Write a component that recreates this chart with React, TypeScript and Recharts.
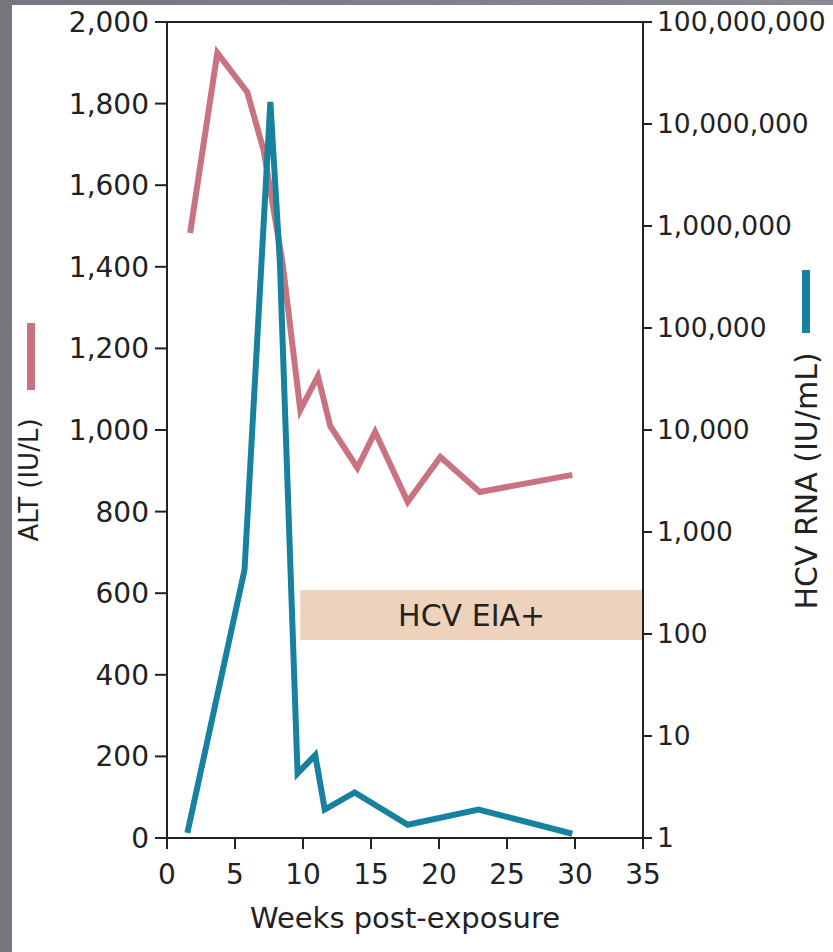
import React from "react";
import {
  ComposedChart,
  Line,
  XAxis,
  YAxis,
  ReferenceArea,
  ReferenceLine,
} from "recharts";

// ALT (IU/L), left axis
const altWeeks = [1.7, 3.7, 5.9, 7.1, 8.5, 9.8, 11.1, 12.0, 14.0, 15.3, 17.7, 20.1, 23.0, 29.8];
const altValues = [1483, 1924, 1828, 1686, 1409, 1049, 1132, 1010, 907, 995, 824, 934, 848, 890];

// HCV RNA (IU/mL), right log axis
const rnaWeeks = [1.5, 5.7, 7.6, 8.3, 9.6, 10.9, 11.6, 13.8, 17.7, 22.9, 29.8];
const rnaValues = [1.12, 425, 16500000, 440000, 4.3, 6.5, 1.9, 2.8, 1.35, 1.9, 1.1];

const weekTicks = [0, 5, 10, 15, 20, 25, 30, 35];
const altTicks = [0, 200, 400, 600, 800, 1000, 1200, 1400, 1600, 1800, 2000];
const rnaTicks = [1, 10, 100, 1000, 10000, 100000, 1000000, 10000000, 100000000];

// HCV EIA+ band
const eiaStart = 9.8;
const eiaEnd = 35;
const eiaLow = 485;
const eiaHigh = 608;

const altData = altWeeks.map((w, i) => ({ week: w, alt: altValues[i] }));
const rnaData = rnaWeeks.map((w, i) => ({ week: w, rna: rnaValues[i] }));

const FONT = "'DejaVu Sans', sans-serif";
const INK = "#222";
const PINK = "#c8737f";
const TEAL = "#17829f";

const fmt = (v: number) => v.toLocaleString("en-US");

const rotated = (x: number, y: number, size: number): React.CSSProperties => ({
  position: "absolute",
  left: x,
  top: y,
  transform: "translate(-50%, -50%) rotate(-90deg)",
  whiteSpace: "nowrap",
  fontFamily: FONT,
  fontSize: size,
  color: INK,
});

export default function App() {
  return (
    <div
      style={{
        position: "absolute",
        left: 0,
        top: 0,
        width: 833,
        height: 952,
        background: "linear-gradient(90deg, #75757d, #8a8a92)",
        overflow: "hidden",
      }}
    >
      <div
        style={{ position: "absolute", left: 12, top: 5, width: 821, height: 947, background: "#fff" }}
      />
      <div style={{ position: "absolute", left: 0, top: 0 }}>
        <ComposedChart
          width={833}
          height={952}
          margin={{ top: 22, right: 0, bottom: 54, left: 0 }}
        >
          <XAxis
            type="number"
            dataKey="week"
            domain={[0, 35]}
            ticks={weekTicks}
            allowDuplicatedCategory={false}
            height={60}
            stroke={INK}
            strokeWidth={2}
            tickSize={11}
            tickMargin={15}
            tick={{ fill: INK, fontSize: 28, fontFamily: FONT }}
          />
          <YAxis
            yAxisId="alt"
            orientation="left"
            domain={[0, 2000]}
            ticks={altTicks}
            width={167}
            stroke={INK}
            strokeWidth={2}
            tickSize={12}
            tickMargin={6}
            tickFormatter={fmt}
            tick={{ fill: INK, fontSize: 28, fontFamily: FONT }}
          />
          <YAxis
            yAxisId="rna"
            orientation="right"
            scale="log"
            domain={[1, 100000000]}
            ticks={rnaTicks}
            allowDataOverflow
            width={190}
            stroke={INK}
            strokeWidth={2}
            tickSize={9}
            tickMargin={5}
            tickFormatter={fmt}
            tick={{ fill: INK, fontSize: 26.5, fontFamily: FONT, textAnchor: "start" }}
          />
          <ReferenceLine yAxisId="alt" y={2000} stroke={INK} strokeWidth={2} />
          <ReferenceArea
            yAxisId="alt"
            x1={eiaStart}
            x2={eiaEnd}
            y1={eiaLow}
            y2={eiaHigh}
            fill="#efd2bb"
            fillOpacity={1}
            stroke="none"
            label={{ value: "HCV EIA+", position: "center", fill: INK, fontSize: 30, fontFamily: FONT }}
          />
          <Line
            yAxisId="alt"
            data={altData}
            dataKey="alt"
            type="linear"
            stroke={PINK}
            strokeWidth={6}
            dot={false}
            isAnimationActive={false}
          />
          <Line
            yAxisId="rna"
            data={rnaData}
            dataKey="rna"
            type="linear"
            stroke={TEAL}
            strokeWidth={6}
            dot={false}
            isAnimationActive={false}
          />
        </ComposedChart>
      </div>

      <div style={{ position: "absolute", left: 27, top: 323, width: 8, height: 67, background: PINK }} />
      <div style={rotated(29, 480, 26)}>ALT (IU/L)</div>

      <div style={{ position: "absolute", left: 802, top: 270, width: 8, height: 63, background: TEAL }} />
      <div style={rotated(806, 481, 30)}>HCV RNA (IU/mL)</div>

      <div
        style={{
          position: "absolute",
          left: 405,
          top: 918,
          transform: "translate(-50%, -50%)",
          whiteSpace: "nowrap",
          fontFamily: FONT,
          fontSize: 29,
          color: INK,
        }}
      >
        Weeks post-exposure
      </div>
    </div>
  );
}
